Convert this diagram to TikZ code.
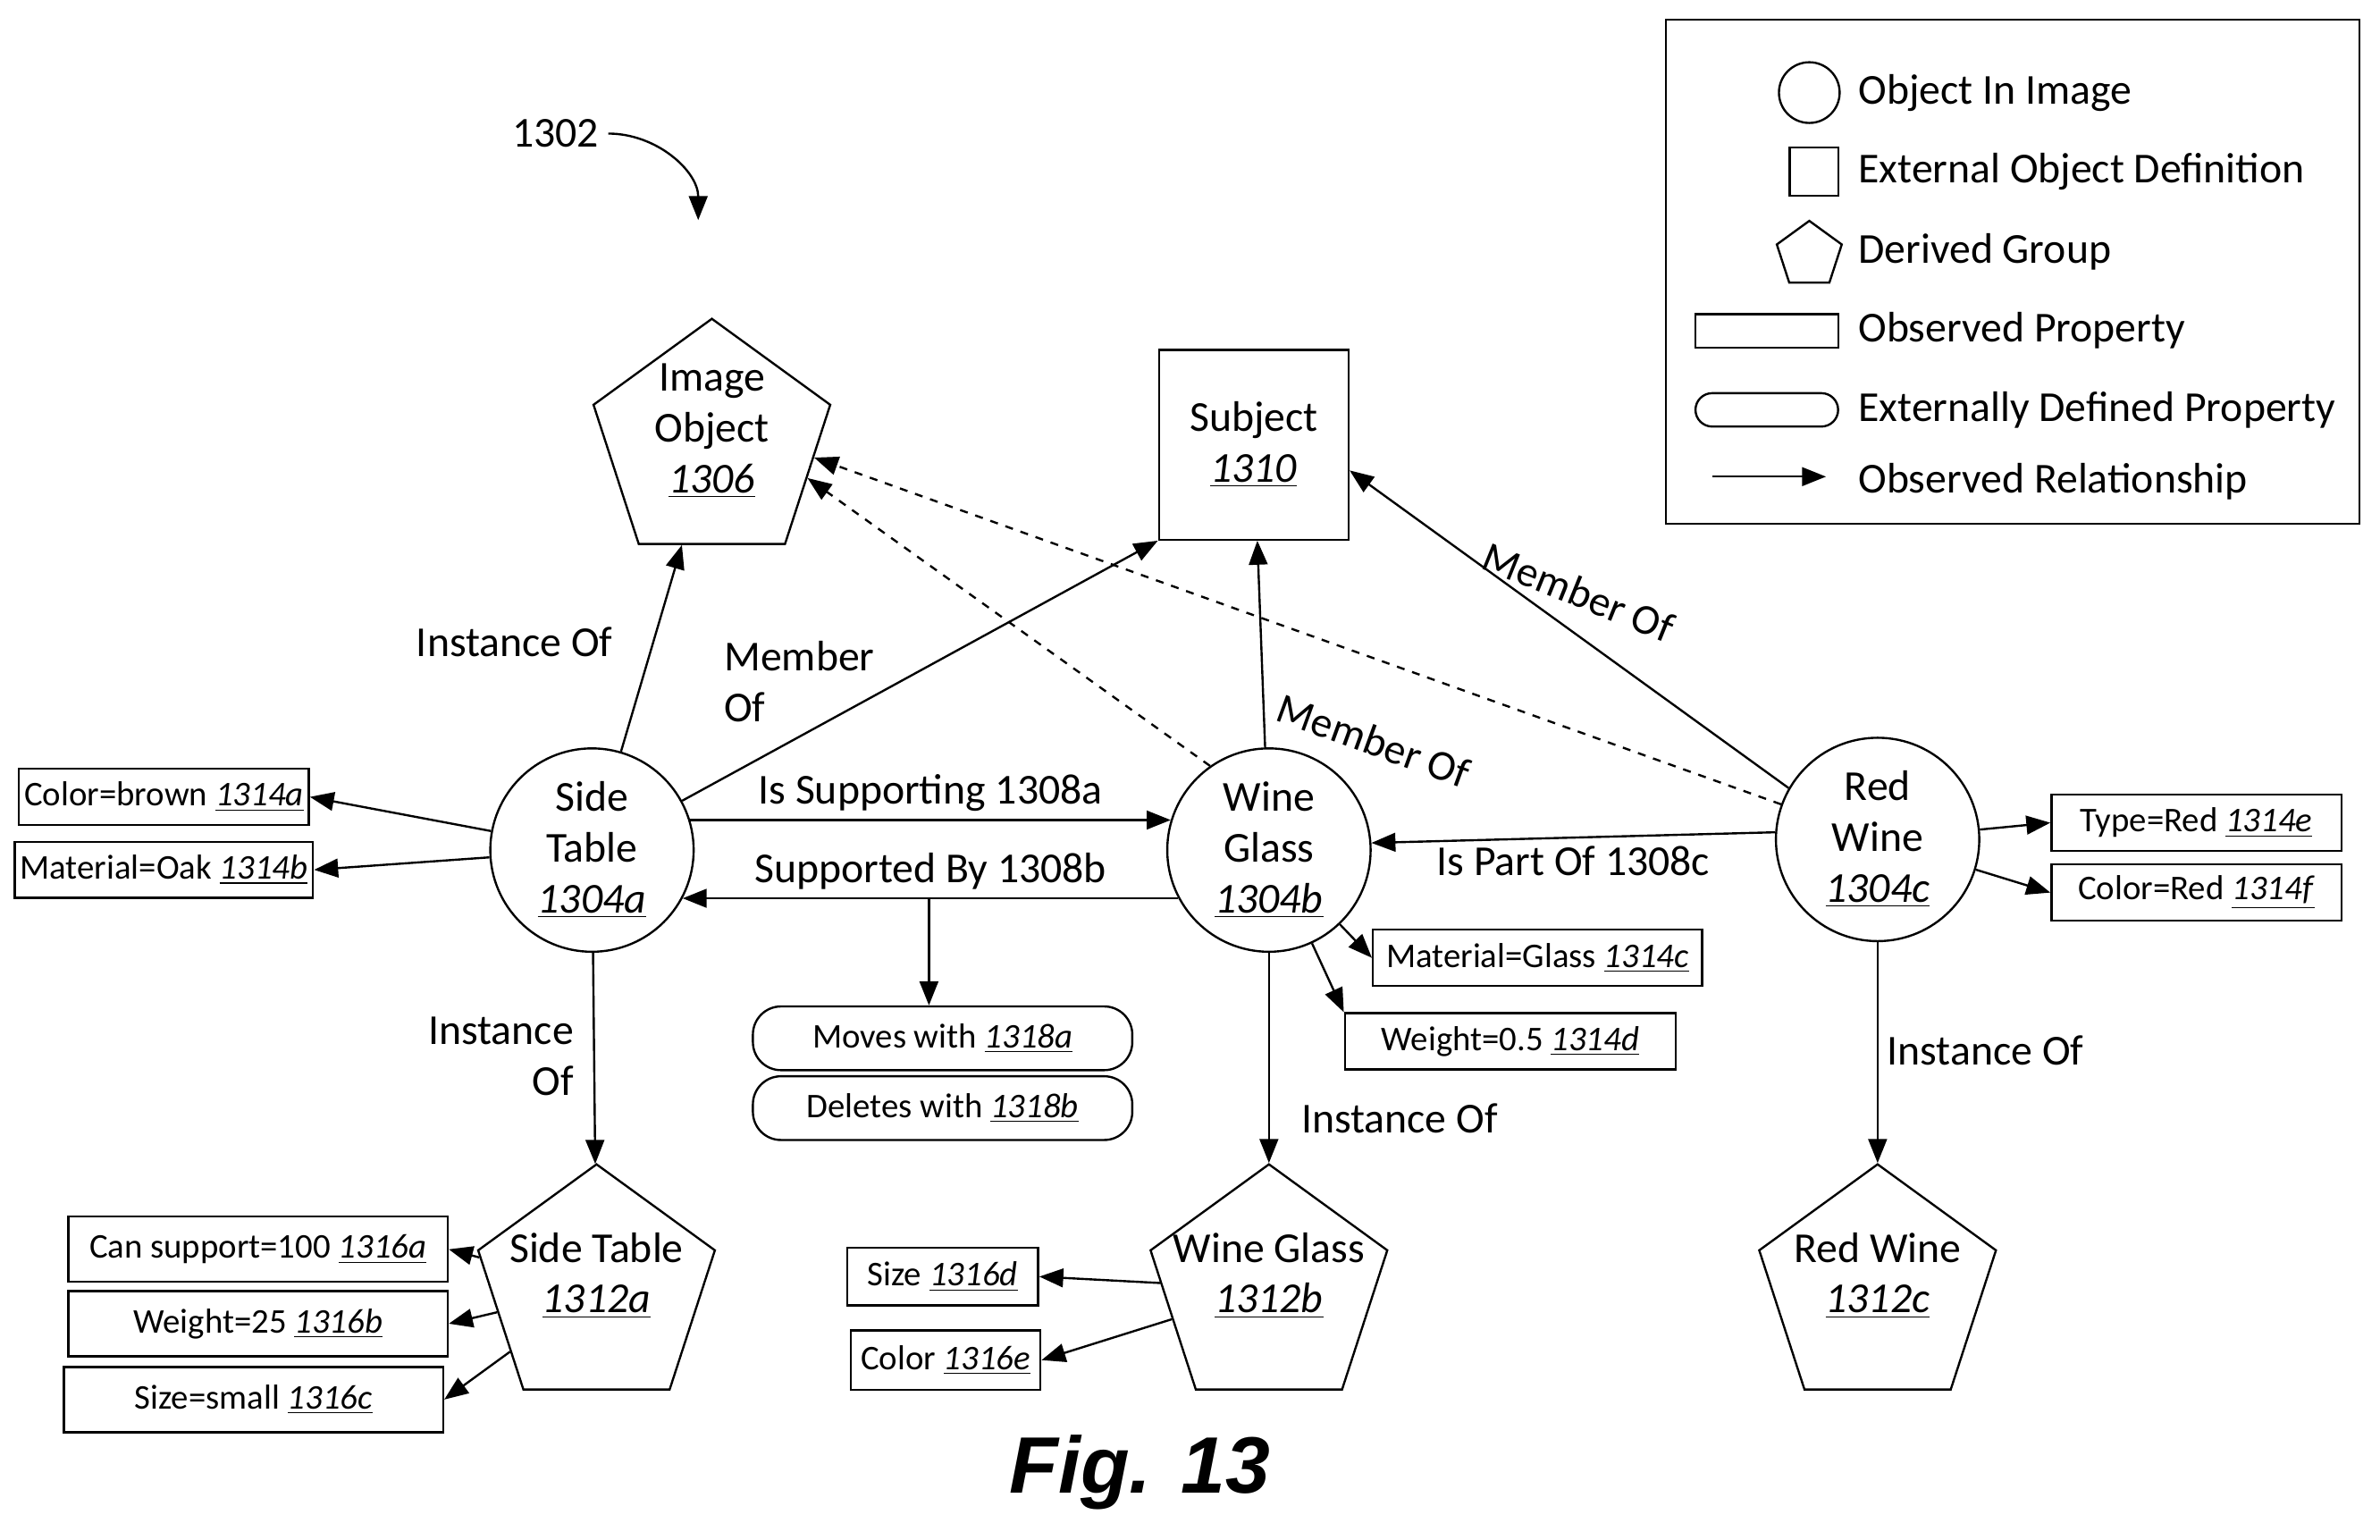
\documentclass[tikz,border=0pt]{standalone}
\usepackage{fontspec}
\setmainfont{Carlito}
\newfontfamily\figfont{Liberation Sans}
\usetikzlibrary{shapes.geometric,arrows.meta,positioning}
\newcommand{\rn}[1]{\underline{\textit{#1}}}
\newcommand{\ptext}[1]{\smash{\makebox[0pt]{\begin{tabular}{@{}c@{}}#1\end{tabular}}}}
\begin{document}
\begin{tikzpicture}[
    x=0.02cm, y=-0.02cm,
    every node/.style={font=\fontsize{16}{19}\selectfont},
    obj/.style={circle, draw, thick, minimum size=2.68cm, inner sep=0pt, align=center},
    grp/.style={regular polygon, regular polygon sides=5, draw, thick, minimum size=3.28cm, inner sep=0pt},
    ext/.style={rectangle, draw, thick, minimum size=2.5cm, align=center},
    prop/.style={rectangle, draw, thick, minimum height=0.74cm, inner sep=2pt, font=\fontsize{13}{15}\selectfont},
    eprop/.style={prop, rounded corners=0.37cm},
    rel/.style={-{Triangle[length=9pt,width=7pt]}, thick},
    dep/.style={rel, dashed},
    lbl/.style={inner sep=1pt},
    key/.style={anchor=west, inner sep=0pt}
]
\useasboundingbox (0,0) rectangle (1568,1014);

% objects in the image
\node[obj] (st) at (390,560) {Side\\Table\\\rn{1304a}};
\node[obj] (wg) at (836,560) {Wine\\Glass\\\rn{1304b}};
\node[obj] (rw) at (1237,553) {Red\\Wine\\\rn{1304c}};

% groups and external definitions
\node[grp] (io) at (469,292) {\ptext{Image\\Object\\\rn{1306}}};
\node[ext] (sj) at (826,293) {Subject\\\rn{1310}};
\node[grp] (gst) at (393,849) {\ptext{Side Table\\\rn{1312a}}};
\node[grp] (gwg) at (836,849) {\ptext{Wine Glass\\\rn{1312b}}};
\node[grp] (grw) at (1237,849) {\ptext{Red Wine\\\rn{1312c}}};

% observed properties
\node[prop, minimum width=3.82cm] (p14a) at (108,525) {Color=brown \rn{1314a}};
\node[prop, minimum width=3.82cm] (p14b) at (108,573) {Material=Oak \rn{1314b}};
\node[prop, minimum width=3.82cm] (p14e) at (1447,542) {Type=Red \rn{1314e}};
\node[prop, minimum width=3.82cm] (p14f) at (1447,588) {Color=Red \rn{1314f}};
\node[prop, minimum width=4.34cm] (p14c) at (1013,631) {Material=Glass \rn{1314c}};
\node[prop, minimum width=4.36cm] (p14d) at (995,686) {Weight=0.5 \rn{1314d}};
\node[prop, minimum width=5cm, minimum height=0.86cm] (p16a) at (170,823) {Can support=100 \rn{1316a}};
\node[prop, minimum width=5cm, minimum height=0.86cm] (p16b) at (170,872) {Weight=25 \rn{1316b}};
\node[prop, minimum width=5cm, minimum height=0.86cm] (p16c) at (167,922) {Size=small \rn{1316c}};
\node[prop, minimum width=2.52cm, minimum height=0.76cm] (p16d) at (621,841) {Size \rn{1316d}};
\node[prop, minimum width=2.5cm, minimum height=0.78cm] (p16e) at (623,896) {Color \rn{1316e}};

% externally defined properties
\node[eprop, minimum width=5cm, minimum height=0.84cm] (e18a) at (621,684) {Moves with \rn{1318a}};
\node[eprop, minimum width=5cm, minimum height=0.84cm] (e18b) at (621,730) {Deletes with \rn{1318b}};

% relationships
\draw[rel] (st) -- (io);
\node[lbl] at (339,423) {Instance Of};
\draw[rel] (st) -- (sj.south west);
\node[lbl, align=left, anchor=west] at (475,449) {Member\\Of};
\draw[rel] (st.17) -- (wg.163) node[lbl, midway, above=2pt] {Is Supporting 1308a};
\draw[rel] (wg.-152) -- (st.-28) node[lbl, midway, above=2pt] {Supported By 1308b};
\coordinate (sb) at (612,591);
\draw[rel] (sb) -- (sb |- e18a.north);
\draw[rel] (wg) -- (sj);
\node[lbl, rotate=-20] at (905,488) {Member Of};
\draw[rel] (rw.150) -- (sj.-15);
\node[lbl, rotate=-22] at (1040,390) {Member Of};
\draw[rel] (rw.176) -- (wg.4) node[lbl, midway, below=2pt] {Is Part Of 1308c};
\draw[dep] (wg.125) -- (io.-20);
\draw[dep] (rw.160) -- (io.-8);

\draw[rel] (st) -- (p14a.east);
\draw[rel] (st) -- (p14b.east);
\draw[rel] (st) -- (gst);
\node[lbl, align=right, anchor=east] at (380,696) {Instance\\Of};
\draw[rel] (wg) -- (gwg);
\node[lbl] at (922,737) {Instance Of};
\draw[rel] (rw) -- (grw);
\node[lbl] at (1308,692) {Instance Of};
\draw[rel] (wg) -- (p14c.west);
\draw[rel] (wg) -- (p14d.north west);
\draw[rel] (rw) -- (p14e.west);
\draw[rel] (rw) -- (p14f.west);
\draw[rel] (gst) -- (p16a.east);
\draw[rel] (gst) -- (p16b.east);
\draw[rel] (gst) -- (p16c.east);
\draw[rel] (gwg) -- (p16d.east);
\draw[rel] (gwg) -- (p16e.east);

% reference label
\node (n1302) at (366,88) {1302};
\coordinate (t1302) at (460,145);
\draw[-{Triangle[length=9pt,width=7pt]}, thick] (n1302.east) to[out=0, in=90] (t1302);

% legend
\node[draw, thick, minimum width=9.14cm, minimum height=6.64cm] (leg) at (1326,179) {};
\node[circle, draw, thick, minimum size=0.8cm, inner sep=0pt] (kc) at (1192,61) {};
\node[rectangle, draw, thick, minimum size=0.64cm, inner sep=0pt] (ks) at (1195,113) {};
\node[regular polygon, regular polygon sides=5, draw, thick, minimum size=0.9cm, inner sep=0pt] (kp) at (1192,168) {};
\node[rectangle, draw, thick, minimum width=1.88cm, minimum height=0.44cm, inner sep=0pt] (kr) at (1164,218) {};
\node[rectangle, draw, thick, rounded corners=0.22cm, minimum width=1.88cm, minimum height=0.44cm, inner sep=0pt] (ke) at (1164,270) {};
\coordinate (ka) at (1128,314);
\coordinate (kb) at (1203,314);
\draw[rel] (ka) -- (kb);
\node[key] at (1224,61) {Object In Image};
\node[key] at (1224,113) {External Object Definition};
\node[key] at (1224,166) {Derived Group};
\node[key] at (1224,218) {Observed Property};
\node[key] at (1224,270) {Externally Defined Property};
\node[key] at (1224,317) {Observed Relationship};

\node[font=\fontsize{30}{32}\selectfont\figfont\bfseries\itshape] (fig) at (751,970) {Fig. 13};
\end{tikzpicture}
\end{document}
